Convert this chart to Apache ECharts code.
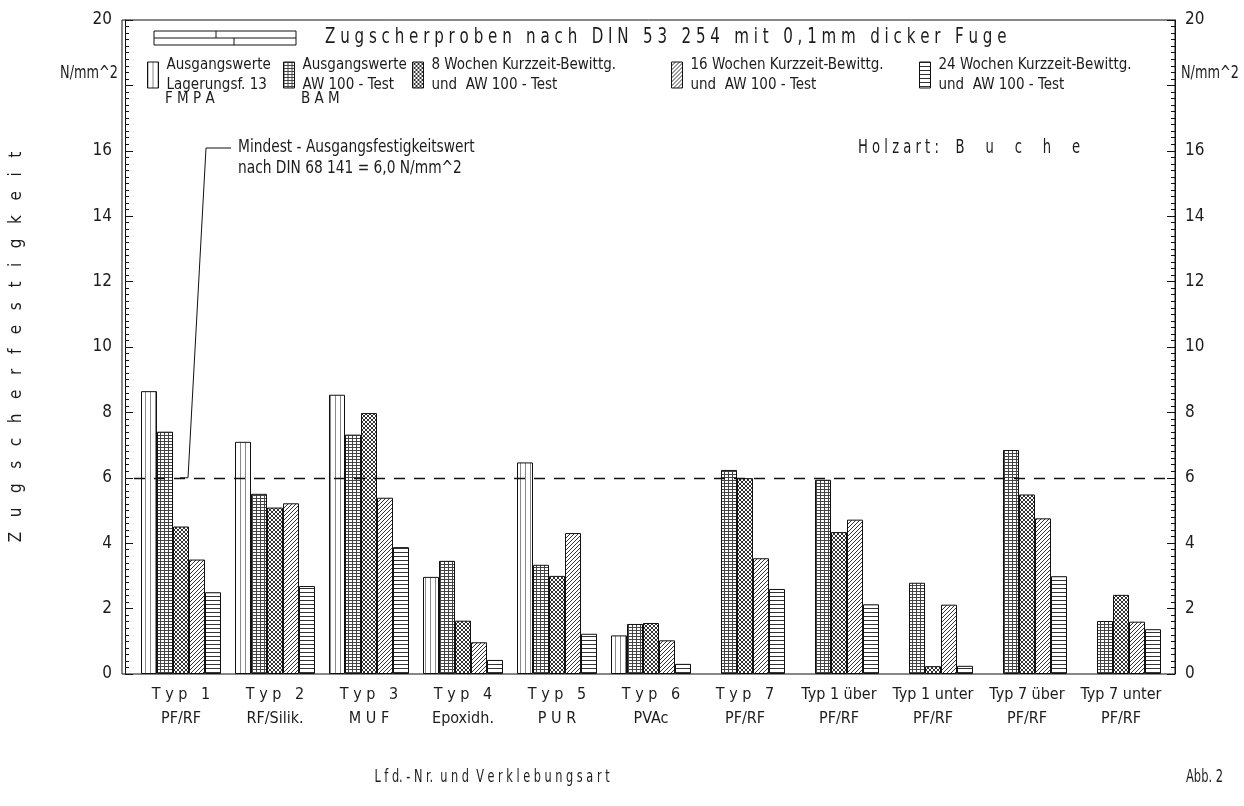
<!DOCTYPE html>
<html>
<head>
<meta charset="utf-8">
<script src="https://cdn.jsdelivr.net/npm/echarts@6/dist/echarts.min.js"></script>
<style>
  html, body { margin: 0; padding: 0; background: #fff; }
  #chart { width: 1244px; height: 806px; }
</style>
</head>
<body>
<div id="chart"></div>
<script>
// Lap-shear strength (N/mm^2) per adhesive type, beech wood
const categories = ['T y p   1', 'T y p   2', 'T y p   3', 'T y p   4', 'T y p   5', 'T y p   6', 'T y p   7',
                    'Typ 1 über', 'Typ 1 unter', 'Typ 7 über', 'Typ 7 unter'];
const adhesiveLabels = ['PF/RF', 'RF/Silik.', 'M U F', 'Epoxidh.', 'P U R', 'PVAc', 'PF/RF', 'PF/RF', 'PF/RF', 'PF/RF', 'PF/RF'];

const seriesNames = [
  'Ausgangswerte\nLagerungsf. 13',
  'Ausgangswerte\nAW 100 - Test',
  '8 Wochen Kurzzeit-Bewittg.\nund  AW 100 - Test',
  '16 Wochen Kurzzeit-Bewittg.\nund  AW 100 - Test',
  '24 Wochen Kurzzeit-Bewittg.\nund  AW 100 - Test'
];
const legendThirdLines = ['F M P A', 'B A M', '', '', ''];

const initialFMPA = [8.65, 7.10, 8.54, 2.97, 6.47, 1.18, null, null, null, null, null];
const initialBAM  = [7.41, 5.51, 7.32, 3.46, 3.34, 1.53, 6.24, 5.94, 2.79, 6.85, 1.62];
const weathered8  = [4.51, 5.09, 7.98, 1.63, 3.00, 1.56, 5.99, 4.34, 0.24, 5.49, 2.42];
const weathered16 = [3.50, 5.22, 5.39, 0.97, 4.31, 1.03, 3.54, 4.72, 2.12, 4.76, 1.60];
const weathered24 = [2.50, 2.69, 3.88, 0.43, 1.23, 0.31, 2.60, 2.13, 0.25, 2.99, 1.37];

const yMin = 0, yMax = 20, yStep = 2;
const minimumStrength = 6.0;

const FONT = "'Liberation Sans Narrow', 'DejaVu Sans Condensed', 'Noto Sans', sans-serif";
const INK = '#1c1c1c';

// hatch fills drawn on tiny canvases
function tile(w, h, draw) {
  const c = document.createElement('canvas');
  c.width = w; c.height = h;
  const g = c.getContext('2d');
  g.fillStyle = '#fff'; g.fillRect(0, 0, w, h);
  g.fillStyle = '#333';
  draw(g);
  return { image: c, repeat: 'repeat' };
}
const fills = [
  tile(5, 4, g => { g.fillStyle = '#8a8a8a'; g.fillRect(0, 0, 1, 4); }),                       // vertical lines
  tile(4, 3, g => { g.fillStyle = '#444'; g.fillRect(0, 0, 4, 1); g.fillRect(0, 0, 1, 3); }),  // fine grid
  tile(4, 4, g => { for (let i = 0; i < 4; i++) { g.fillRect(i, i, 1, 1); g.fillRect(3 - i, i, 1, 1); } }), // cross-hatch
  tile(4, 4, g => { for (let i = 0; i < 4; i++) g.fillRect(3 - i, i, 1, 1); }),                 // diagonal
  tile(4, 4, g => { g.fillRect(0, 0, 4, 1); })                                                  // horizontal lines
];

const seriesData = [initialFMPA, initialBAM, weathered8, weathered16, weathered24];

const chart = echarts.init(document.getElementById('chart'), null, { renderer: 'canvas' });

const series = seriesData.map((d, i) => ({
  type: 'bar',
  name: seriesNames[i],
  data: d,
  xAxisIndex: 0,
  yAxisIndex: 0,
  barWidth: 16,
  barGap: '0%',
  itemStyle: { color: fills[i], borderColor: '#111', borderWidth: 1 },
  emphasis: { disabled: true },
  silent: true
}));
series[0].markLine = {
  silent: true,
  symbol: 'none',
  label: { show: false },
  lineStyle: { color: '#111', type: [11, 9], width: 1.4 },
  data: [{ yAxis: minimumStrength }]
};

const legendX = [142, 278, 407, 666, 914];
const legends = seriesNames.map((n, i) => ({
  data: [n],
  left: legendX[i],
  top: 50,
  orient: 'vertical',
  icon: 'rect',
  itemWidth: 11,
  itemHeight: 26,
  selectedMode: false,
  itemStyle: { borderColor: '#111', borderWidth: 1 },
  textStyle: { fontFamily: FONT, fontSize: 15, lineHeight: 20, color: INK, padding: [0, 0, 0, 3] }
}));

function yAxisDef(pos, offset) {
  return {
    type: 'value', position: pos, offset: offset,
    min: yMin, max: yMax, interval: yStep,
    axisLine: { show: true, lineStyle: { color: '#111', width: 1 } },
    axisTick: { show: true, inside: true, length: 8, lineStyle: { color: '#111' } },
    minorTick: { show: true, splitNumber: 10, length: 4, lineStyle: { color: '#111' } },
    splitLine: { show: false },
    axisLabel: { margin: 13, fontFamily: FONT, fontSize: 17, color: INK, formatter: v => (v === 18 ? '' : String(v)) }
  };
}
const yLeft = yAxisDef('left', 9);
yLeft.name = 'Z   u   g   s   c   h   e   r   f   e   s   t   i   g   k   e   i   t';
yLeft.nameLocation = 'middle';
yLeft.nameGap = 100;
yLeft.nameTextStyle = { fontFamily: FONT, fontSize: 17, color: INK };
const yRight = yAxisDef('right', 7);
yRight.axisLabel.margin = 10;

const option = {
  animation: false,
  backgroundColor: '#fff',
  grid: [
    { left: 131, right: 76, top: 20, bottom: 132 },
    { left: 122, right: 69, top: 20, bottom: 132, show: true, borderColor: '#111', borderWidth: 1, backgroundColor: 'transparent' }
  ],
  legend: legends,
  xAxis: [
    {
      type: 'category', gridIndex: 0, data: categories,
      axisLine: { show: false },
      axisTick: { show: false },
      axisLabel: {
        interval: 0, margin: 9, fontFamily: FONT, fontSize: 16, color: INK, lineHeight: 24,
        formatter: (v, idx) => v + '\n' + adhesiveLabels[idx]
      }
    },
    { type: 'value', gridIndex: 1, show: false, min: 0, max: 1 }
  ],
  yAxis: [yLeft, yRight, { type: 'value', gridIndex: 1, show: false, min: 0, max: 1 }],
  series: series
};

chart.setOption(option);

// annotations placed relative to the axes
const y6 = chart.convertToPixel({ yAxisIndex: 0 }, minimumStrength);
function label(x, y, text, size, sx, align) {
  return {
    type: 'text', x: x, y: y, originX: 0, originY: 0, scaleX: sx,
    style: { text: text, fontFamily: FONT, fontSize: size, fill: INK, align: align || 'left', verticalAlign: 'middle' }
  };
}
const line = (x1, y1, x2, y2) => ({ type: 'line', shape: { x1, y1, x2, y2 }, style: { stroke: '#111', lineWidth: 1 } });
const gfx = [
  // lap-joint specimen sketch beside the heading
  { type: 'rect', shape: { x: 154, y: 31, width: 142, height: 14 }, style: { fill: 'none', stroke: '#111', lineWidth: 1 } },
  line(154, 38, 296, 38),
  line(216, 31, 216, 38),
  line(234, 38, 234, 45),
  label(325, 38, 'Z u g s c h e r p r o b e n   n a c h   D I N   5 3   2 5 4   m i t   0 , 1 m m   d i c k e r   F u g e', 21, 0.8),
  label(118, 74, 'N/mm^2', 17, 0.84, 'right'),
  label(1181, 74, 'N/mm^2', 17, 0.84),
  label(238, 148, 'Mindest - Ausgangsfestigkeitswert', 17, 0.9),
  label(238, 169, 'nach DIN 68 141 = 6,0 N/mm^2', 17, 0.9),
  { type: 'polyline', shape: { points: [[180, y6], [188, y6], [206, 148], [231, 148]] }, style: { fill: 'none', stroke: '#111', lineWidth: 1 } },
  label(858, 148, 'H o l z a r t :    B     u     c     h     e', 19, 0.77),
  label(492, 778, 'L f d. - N r.  u n d  V e r k l e b u n g s a r t', 17, 0.74, 'center'),
  label(1186, 778, 'Abb. 2', 17, 0.75)
];
legendThirdLines.forEach((t, i) => {
  if (t) gfx.push(label(legendX[i] + 23, 99, t, 15, 1));
});
chart.setOption({ graphic: gfx });
</script>
</body>
</html>
